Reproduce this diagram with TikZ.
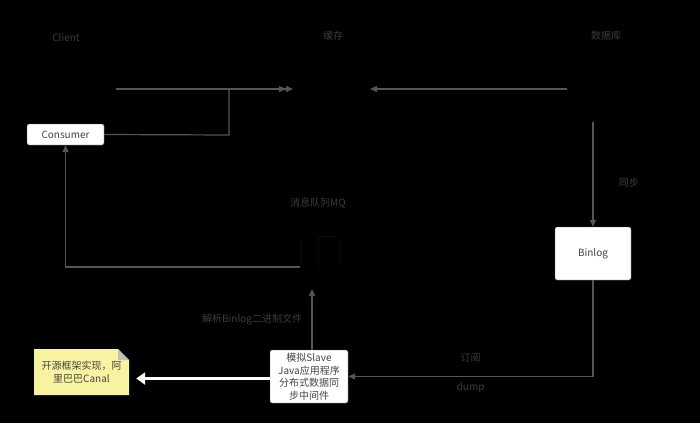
\documentclass[tikz,border=0pt]{standalone}
\usepackage{fontspec}
\setmainfont{Noto Sans CJK SC}
\usetikzlibrary{calc,arrows.meta}
\definecolor{wire}{HTML}{555555}
\definecolor{lbl}{HTML}{3C3C3C}
\definecolor{boxtxt}{HTML}{444444}
\definecolor{notefill}{HTML}{F8F3A0}
\definecolor{mqred}{HTML}{160707}
\tikzset{
  box/.style={fill=white,draw=wire,rounded corners=2pt,text=boxtxt,font=\fontsize{10}{12.5}\selectfont,align=center,inner sep=1pt},
  lab/.style={text=lbl,font=\fontsize{10}{12}\selectfont},
  wireline/.style={draw=wire,line width=1.2pt,>={Triangle[length=7pt,width=6pt]}}
}
\begin{document}
\begin{tikzpicture}[x=1pt,y=-1pt]
\fill[black] (0,0) rectangle (700,423);
% titles
\node[lab] (client) at (66,38) {Client};
\node[lab] (cache) at (333,36) {缓存};
\node[lab] (db) at (606,36) {数据库};
\node[lab] (mqlabel) at (318,203) {消息队列MQ};
% ends of the connectors
\coordinate (clientR) at (116,89);
\coordinate (cacheL) at (293,89);
\coordinate (cacheL2) at (286,89);
\coordinate (cacheR) at (370,89);
\coordinate (dbL) at (567,89);
\coordinate (dbB) at (593,122);
\coordinate (mq) at (300,267);
\coordinate (mqB) at (312,289);
% faint queue icon
\draw[mqred,line width=1pt] (301,238)--(301,266) (318,266)--(318,236)--(336,236) (340,238)--(340,266);
% boxes
\node[box,minimum width=77,minimum height=21] (consumer) at (65.5,134.5) {Consumer};
\node[box,minimum width=76,minimum height=53] (binlog) at (593,253.5) {Binlog};
\node[box,minimum width=78,minimum height=53] (slave) at (309,376.5) {模拟Slave\\Java应用程序\\分布式数据同\\步中间件};
\fill[notefill] (34,395)--(34,349)--(118,349)--(129,360)--(129,395)--cycle;
\fill[black!25] (118,349)--(129,360)--(118,360)--cycle;
\node[text=boxtxt,font=\fontsize{10}{12.5}\selectfont,align=center,minimum width=95,minimum height=46] (canal) at (81.5,372) {开源框架实现，阿\\里巴巴Canal};
% connectors
\draw[wireline,->] (clientR) -- (cacheL);
\draw[wireline,->] (consumer.east) -- (229,135) |- (cacheL2);
\draw[wireline,->] (dbL) -- (cacheR);
\draw[wireline,->] (dbB) -- (binlog.north) node[lab,pos=0.58,right=22pt] {同步};
\draw[wireline,->] (binlog.south) |- (slave.east) node[lab,pos=0.75,above=10pt] {订阅} node[lab,pos=0.75,below=2pt] {dump};
\draw[wireline,->] (slave.north -| mqB) -- (mqB) node[lab,midway,left=6pt] {解析Binlog二进制文件};
\draw[wireline,->] (mq) -| (consumer.south);
\draw[white,line width=3.5pt,-{Triangle[length=9pt,width=12pt]},shorten >=7pt] ([yshift=-2pt]slave.west) -- ([yshift=-2pt]slave.west -| canal.east);
\end{tikzpicture}
\end{document}
